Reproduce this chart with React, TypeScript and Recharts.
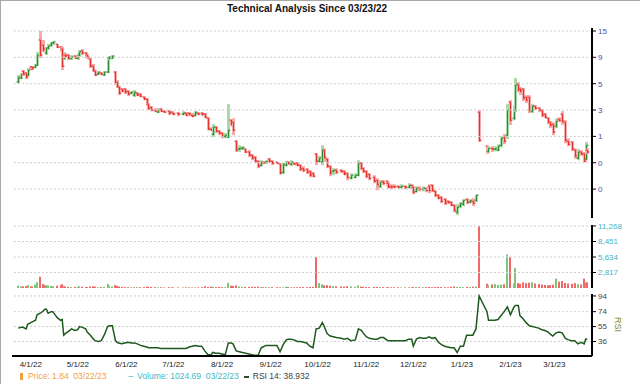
import { ComposedChart, Bar, Line, XAxis, YAxis, ReferenceLine } from 'recharts';

// calendar days since 03/23/22
const DAY = [
  1, 3, 4, 6, 7, 9, 10, 12, 13, 15,
  17, 18, 19, 20, 22, 23, 26, 28, 29, 30,
  31, 33, 35, 37, 39, 40, 42, 44, 45, 47,
  49, 50, 52, 54, 56, 58, 59, 61, 63, 64,
  65, 67, 69, 71, 73, 75, 77, 79, 81, 83,
  84, 86, 88, 90, 92, 94, 97, 99, 100, 103,
  106, 108, 110, 112, 114, 116, 118, 120, 122, 124,
  125, 127, 129, 131, 133, 135, 137, 138, 140, 142,
  144, 146, 148, 150, 152, 154, 156, 157, 159, 161,
  163, 166, 168, 170, 172, 173, 175, 177, 179, 181,
  183, 185, 187, 189, 191, 193, 195, 196, 198, 200,
  202, 204, 207, 209, 211, 213, 216, 218, 220, 221,
  223, 225, 228, 230, 232, 234, 236, 237, 239, 241,
  243, 245, 248, 250, 252, 253, 255, 257, 259, 261,
  263, 265, 267, 269, 271, 273, 275, 277, 279, 281,
  283, 285, 287, 289, 291, 293, 295, 300, 301, 303,
  305, 307, 309, 311, 313, 315, 317, 318, 320, 321,
  323, 325, 327, 329, 331, 333, 335, 337, 339, 340,
  342, 344, 346, 348, 350, 352, 354, 356, 358, 360,
  362, 363, 364,
];

const OPEN = [
  5.43, 5.91, 6.85, 6.57, 6.3, 7.45, 7.45, 7.45, 7.77, 13.16,
  11.84, 10.88, 10.01, 11.12, 11.84, 12.36, 12.1, 11.35, 10.88, 9.01,
  9.6, 9.6, 9.01, 9.4, 9.01, 9.6, 10.44, 10.01, 9.6, 8.82,
  7.61, 6.85, 6.43, 6.57, 6.3, 6.71, 9.01, 9.01, 6.71, 5.43,
  4.89, 4.69, 4.69, 4.49, 4.31, 4.13, 4.31, 4.22, 3.96, 3.8,
  3.42, 3.21, 3.01, 2.89, 3.08, 2.95, 2.95, 2.89, 2.83, 2.83,
  2.77, 2.83, 2.83, 2.71, 2.71, 2.83, 2.83, 2.77, 2.54, 2.02,
  1.82, 2.11, 1.94, 1.86, 1.74, 1.71, 2.44, 2.34, 1.57, 1.33,
  1.35, 1.33, 1.25, 1.17, 1.12, 1.03, 0.946, 1.01, 1.01, 1.08,
  1.03, 1.01, 0.97, 0.817, 0.946, 1.01, 0.97, 0.99, 0.99, 0.946,
  0.888, 0.87, 0.834, 0.8, 1.2, 1.03, 1.01, 1.3, 1.08, 0.926,
  0.834, 0.852, 0.852, 0.834, 0.8, 0.72, 0.735, 0.767, 0.99, 0.888,
  0.834, 0.783, 0.735, 0.69, 0.608, 0.676, 0.676, 0.648, 0.608, 0.608,
  0.608, 0.595, 0.608, 0.595, 0.621, 0.595, 0.547, 0.583, 0.571, 0.583,
  0.608, 0.621, 0.547, 0.504, 0.483, 0.463, 0.444, 0.435, 0.408, 0.352,
  0.4, 0.417, 0.463, 0.435, 0.444, 0.453, 2.89, 1.41, 1.27, 1.35,
  1.33, 1.3, 1.44, 1.71, 1.78, 3.57, 2.54, 3.01, 5.21, 4.69,
  4.69, 3.96, 3.96, 2.95, 3.28, 3.14, 3.01, 2.77, 2.54, 2.34,
  2.24, 2.15, 2.49, 2.77, 2.34, 1.57, 1.54, 1.3, 1.1, 1.25,
  1.2, 1.08, 1.3,
];

const HIGH = [
  6.3, 6.57, 7.0, 6.71, 7.3, 7.61, 7.61, 7.94, 10.22, 15.9,
  13.16, 11.12, 11.35, 12.1, 12.62, 12.88, 12.1, 11.6, 11.35, 10.22,
  10.01, 9.8, 9.6, 9.6, 9.8, 10.66, 10.88, 10.22, 9.8, 9.01,
  7.94, 7.0, 6.85, 6.71, 6.85, 9.2, 9.4, 9.6, 6.85, 5.67,
  4.99, 4.79, 4.79, 4.59, 4.49, 4.59, 4.4, 4.31, 4.04, 3.88,
  3.49, 3.28, 3.14, 3.14, 3.14, 3.01, 3.01, 2.95, 2.89, 2.89,
  2.95, 2.89, 2.89, 2.83, 2.95, 2.89, 2.89, 2.83, 2.6, 2.11,
  2.24, 2.15, 1.98, 1.9, 1.86, 3.42, 2.49, 2.54, 1.6, 1.44,
  1.41, 1.35, 1.3, 1.2, 1.15, 1.05, 1.05, 1.03, 1.05, 1.1,
  1.05, 1.01, 0.99, 0.99, 1.03, 1.03, 1.05, 1.01, 1.01, 0.97,
  0.926, 0.888, 0.852, 0.817, 1.22, 1.15, 1.44, 1.35, 1.1, 0.946,
  0.888, 0.888, 0.87, 0.852, 0.817, 0.8, 0.8, 1.05, 1.01, 0.907,
  0.852, 0.8, 0.767, 0.72, 0.69, 0.69, 0.69, 0.662, 0.634, 0.634,
  0.621, 0.634, 0.621, 0.648, 0.634, 0.608, 0.608, 0.608, 0.608, 0.595,
  0.634, 0.634, 0.559, 0.514, 0.493, 0.473, 0.453, 0.444, 0.417, 0.417,
  0.435, 0.463, 0.473, 0.463, 0.473, 0.514, 3.01, 1.44, 1.41, 1.41,
  1.41, 1.47, 1.74, 1.82, 3.42, 3.72, 3.35, 5.91, 5.43, 4.89,
  4.79, 4.13, 4.13, 3.42, 3.35, 3.21, 3.08, 2.83, 2.6, 2.39,
  2.34, 2.54, 2.6, 2.95, 2.44, 1.67, 1.57, 1.35, 1.33, 1.3,
  1.25, 1.54, 1.35,
];

const LOW = [
  5.32, 5.79, 6.17, 5.79, 6.17, 7.0, 7.15, 7.3, 7.61, 9.01,
  10.22, 10.22, 9.6, 10.66, 11.35, 11.84, 11.12, 10.22, 7.0, 8.63,
  9.01, 8.63, 8.63, 8.82, 8.63, 9.2, 9.6, 9.01, 8.82, 7.3,
  6.71, 6.17, 6.3, 6.3, 6.17, 6.57, 8.63, 8.82, 5.1, 4.79,
  4.13, 4.4, 4.22, 4.04, 4.22, 3.96, 4.04, 3.96, 3.72, 3.28,
  3.01, 2.95, 2.89, 2.83, 2.89, 2.83, 2.71, 2.77, 2.71, 2.65,
  2.71, 2.65, 2.65, 2.6, 2.65, 2.71, 2.65, 2.54, 1.98, 1.94,
  1.71, 1.86, 1.78, 1.67, 1.67, 1.67, 2.15, 1.78, 1.25, 1.25,
  1.3, 1.22, 1.12, 1.05, 0.99, 0.888, 0.926, 0.97, 0.97, 0.99,
  0.946, 0.97, 0.783, 0.783, 0.926, 0.946, 0.926, 0.946, 0.926, 0.834,
  0.817, 0.783, 0.735, 0.735, 0.946, 1.01, 0.946, 1.01, 0.888, 0.751,
  0.767, 0.783, 0.8, 0.767, 0.69, 0.705, 0.72, 0.751, 0.852, 0.8,
  0.72, 0.69, 0.648, 0.559, 0.583, 0.621, 0.608, 0.583, 0.571, 0.583,
  0.583, 0.583, 0.571, 0.583, 0.571, 0.514, 0.536, 0.547, 0.547, 0.536,
  0.525, 0.536, 0.483, 0.463, 0.426, 0.408, 0.417, 0.4, 0.352, 0.331,
  0.383, 0.4, 0.417, 0.426, 0.4, 0.435, 1.54, 1.2, 1.22, 1.25,
  1.27, 1.27, 1.38, 1.47, 1.64, 2.2, 2.44, 2.89, 4.4, 4.13,
  3.64, 3.49, 2.83, 2.83, 3.01, 2.89, 2.6, 2.54, 2.24, 2.06,
  1.78, 2.06, 2.34, 2.2, 1.5, 1.41, 1.27, 1.08, 1.05, 1.15,
  1.01, 1.05, 1.2,
];

const CLOSE = [
  6.04, 6.43, 6.43, 6.04, 7.0, 7.15, 7.3, 7.77, 9.6, 9.6,
  10.66, 10.66, 11.12, 11.6, 12.36, 12.62, 11.35, 10.66, 7.61, 9.8,
  9.4, 9.01, 9.2, 9.01, 9.4, 10.22, 10.01, 9.4, 9.2, 7.61,
  7.0, 6.3, 6.71, 6.43, 6.71, 9.01, 9.2, 9.4, 5.43, 4.99,
  4.31, 4.49, 4.4, 4.22, 4.4, 4.4, 4.13, 4.04, 3.8, 3.42,
  3.14, 3.01, 2.95, 3.01, 2.95, 2.89, 2.83, 2.83, 2.77, 2.77,
  2.83, 2.71, 2.77, 2.65, 2.89, 2.77, 2.77, 2.6, 2.02, 1.98,
  2.11, 1.94, 1.86, 1.74, 1.78, 1.98, 2.24, 1.98, 1.3, 1.35,
  1.38, 1.25, 1.17, 1.1, 1.03, 0.926, 1.01, 0.99, 1.03, 1.03,
  0.99, 0.99, 0.8, 0.97, 1.01, 0.99, 1.01, 0.97, 0.946, 0.87,
  0.852, 0.817, 0.767, 0.751, 1.03, 1.1, 1.3, 1.12, 0.926, 0.8,
  0.852, 0.817, 0.834, 0.783, 0.735, 0.767, 0.767, 0.99, 0.888, 0.834,
  0.751, 0.72, 0.676, 0.634, 0.662, 0.648, 0.634, 0.595, 0.595, 0.6,
  0.595, 0.608, 0.595, 0.621, 0.595, 0.536, 0.583, 0.571, 0.583, 0.559,
  0.559, 0.559, 0.504, 0.473, 0.444, 0.426, 0.435, 0.408, 0.367, 0.391,
  0.426, 0.453, 0.435, 0.453, 0.426, 0.504, 1.6, 1.25, 1.35, 1.33,
  1.35, 1.41, 1.67, 1.57, 3.01, 2.44, 3.14, 5.1, 4.59, 4.49,
  3.88, 3.72, 3.01, 3.28, 3.14, 3.01, 2.71, 2.6, 2.34, 2.2,
  1.9, 2.39, 2.44, 2.39, 1.6, 1.47, 1.33, 1.15, 1.25, 1.2,
  1.03, 1.44, 1.25,
];

const VOLUME = [
  420, 310, 280, 350, 520, 300, 260, 640, 1050, 2050,
  720, 480, 560, 450, 390, 330, 410, 520, 690, 380,
  260, 210, 180, 200, 230, 310, 250, 190, 170, 280,
  330, 240, 150, 160, 230, 740, 420, 300, 520, 380,
  260, 200, 160, 150, 140, 170, 130, 150, 160, 210,
  250, 180, 150, 120, 130, 110, 140, 120, 100, 110,
  130, 120, 110, 100, 120, 110, 150, 310, 180, 260,
  220, 170, 190, 160, 150, 950, 420, 380, 450, 280,
  220, 190, 210, 230, 200, 260, 180, 150, 170, 140,
  160, 150, 130, 120, 260, 180, 150, 140, 130, 150,
  170, 160, 190, 210, 5600, 900, 650, 480, 520, 430,
  360, 300, 280, 250, 330, 290, 240, 470, 260, 210,
  180, 170, 200, 220, 190, 160, 150, 140, 130, 120,
  130, 110, 120, 140, 130, 150, 180, 160, 150, 170,
  190, 160, 180, 200, 170, 150, 140, 230, 260, 200,
  180, 160, 210, 190, 240, 280, 11268, 780, 520, 640,
  700, 560, 620, 680, 6100, 5600, 820, 3650, 900, 760,
  1020, 880, 960, 1050, 820, 700, 620, 540, 480, 520,
  600, 1700, 1150, 1250, 900, 820, 760, 880, 700, 640,
  1700, 1000, 1024.69,
];

const RSI = [
  53, 54, 54, 52, 58, 60, 61, 63, 70, 72,
  75, 77, 77, 72, 74, 74, 66, 63, 64, 44,
  46, 49, 52, 50, 51, 55, 54, 52, 48, 44,
  39, 37, 36, 37, 45, 55, 56, 56, 37, 35,
  34, 33, 34, 35, 34, 34, 33, 31, 30, 29,
  28, 28, 28, 28, 27, 27, 27, 27, 27, 27,
  27, 27, 29, 30, 31, 30, 30, 24, 19, 19,
  22, 21, 21, 20, 19, 34, 34, 33, 24, 23,
  22, 21, 20, 19, 18.5, 18.5, 28, 29, 31, 31,
  31, 31, 23, 32, 38, 39, 39, 38, 36, 36,
  35, 34, 30, 28, 52, 53, 60, 56, 46, 43,
  42, 41, 40, 39, 40, 37, 38, 52, 50, 47,
  42, 40, 39, 39, 41, 41, 38, 37, 37, 37,
  37, 37, 37, 39, 39, 30, 39, 41, 40, 40,
  42, 40, 41, 35, 32, 30, 29, 28, 28, 22,
  30, 30, 44, 44, 44, 52, 94, 74, 63, 63,
  63, 64, 69, 74, 80, 70, 79, 82, 82, 69,
  65, 60, 56, 55, 54, 53, 51, 50, 48, 46,
  43, 47, 48, 47, 40, 38, 37, 37, 33, 35,
  33, 39, 38.932,
];

const MONTH_TICKS = [9, 39, 70, 100, 131, 162, 192, 223, 253, 284, 315, 343];
const MONTH_LABELS = ['4/1/22', '5/1/22', '6/1/22', '7/1/22', '8/1/22', '9/1/22', '10/1/22', '11/1/22', '12/1/22', '1/1/23', '2/1/23', '3/1/23'];
const PRICE_TICKS = [15.9, 9.14, 5.25, 3.02, 1.735, 0.997, 0.573];
const VOLUME_TICKS = [2817, 5634, 8451, 11268];
const RSI_TICKS = [36, 55, 74, 94];

const data = DAY.map((d, i) => ({
  day: d,
  open: OPEN[i],
  high: HIGH[i],
  low: LOW[i],
  close: CLOSE[i],
  range: [LOW[i], HIGH[i]],
  volume: VOLUME[i],
  rsi: RSI[i],
}));

const X_DOMAIN = [-3, 367];
const MARGIN_X = { left: 12, right: 0 };
const FONT = 'Arial, "Liberation Sans", sans-serif';

const Candle = (props: any) => {
  const { x, y, width, height, payload } = props;
  if (!payload) return null;
  const up = payload.close >= payload.open;
  const cx = Math.round(x + width / 2) + 0.5;
  const top = Math.min(y, y + height);
  const h = Math.max(Math.abs(height), 1);
  const lh = Math.log(payload.high);
  const ll = Math.log(payload.low);
  const at = (v: number) => (lh === ll ? top : top + (h * (lh - Math.log(v))) / (lh - ll));
  const yo = at(payload.open);
  const yc = at(payload.close);
  const dark = up ? '#2e8b2e' : '#e8302a';
  const light = up ? '#a9d9a9' : '#f7aaaa';
  return (
    <g>
      <rect x={cx - 1.5} y={top} width={3} height={h} fill={light} />
      <line x1={cx} x2={cx} y1={Math.min(yo, yc)} y2={Math.max(yo, yc) + 1} stroke={dark} />
      <line x1={cx - 2} x2={cx} y1={yo} y2={yo} stroke={dark} />
      <line x1={cx} x2={cx + 2} y1={yc} y2={yc} stroke={dark} />
    </g>
  );
};

const VolBar = (props: any) => {
  const { x, y, width, height, payload } = props;
  if (!payload || !height) return null;
  const up = payload.close >= payload.open;
  const cx = Math.round(x + width / 2);
  return <rect x={cx - 1} y={y} width={2} height={height} fill={up ? '#7cc77c' : '#f06868'} />;
};

const axisLine = { stroke: '#000', strokeWidth: 2 };

export default function App() {
  return (
    <div style={{ position: 'absolute', left: 0, top: 0, width: 640, height: 384, background: '#fff', fontFamily: FONT, overflow: 'hidden' }}>
      <div style={{ position: 'absolute', left: 0, top: 0, width: 639, height: 383, borderLeft: '1px solid #a8a8a8', borderTop: '1px solid #a8a8a8' }} />
      <div style={{ position: 'absolute', left: 0, top: 3, width: 614, textAlign: 'center', fontSize: 10, lineHeight: '12px', fontWeight: 'bold', color: '#111' }}>
        Technical Analysis Since 03/23/22
      </div>

      <div style={{ position: 'absolute', left: 0, top: 0 }}>
        <ComposedChart width={640} height={220} data={data} margin={{ top: 28, bottom: 2, ...MARGIN_X }}>
          <XAxis dataKey="day" type="number" domain={X_DOMAIN} hide allowDataOverflow />
          <YAxis
            orientation="right"
            width={48}
            scale="log"
            type="number"
            domain={[0.312, 16.93]}
            allowDataOverflow
            ticks={PRICE_TICKS}
            tickFormatter={(v: number) => String(Math.floor(v))}
            axisLine={axisLine}
            tickLine={{ stroke: '#000' }}
            tickSize={4}
            tick={{ fontSize: 8, fill: '#4b4bb0' }}
          />
          {PRICE_TICKS.map((v) => (
            <ReferenceLine key={v} y={v} stroke="#cfcfcf" strokeDasharray="2 2" />
          ))}
          <Bar dataKey="range" barSize={3} shape={Candle} isAnimationActive={false} />
        </ComposedChart>
      </div>

      <div style={{ position: 'absolute', left: 0, top: 220 }}>
        <ComposedChart width={640} height={70} data={data} margin={{ top: 5, bottom: 2, ...MARGIN_X }}>
          <XAxis dataKey="day" type="number" domain={X_DOMAIN} hide allowDataOverflow />
          <YAxis
            orientation="right"
            width={48}
            type="number"
            domain={[0, 11450]}
            allowDataOverflow
            ticks={VOLUME_TICKS}
            tickFormatter={(v: number) => v.toLocaleString('en-US')}
            axisLine={axisLine}
            tickLine={{ stroke: '#000' }}
            tickSize={4}
            tick={{ fontSize: 8, fill: '#3fb4c4' }}
          />
          {VOLUME_TICKS.map((v) => (
            <ReferenceLine key={v} y={v} stroke="#cfcfcf" strokeDasharray="2 2" />
          ))}
          <Bar dataKey="volume" barSize={2} shape={VolBar} isAnimationActive={false} />
        </ComposedChart>
      </div>

      <div style={{ position: 'absolute', left: 0, top: 290 }}>
        <ComposedChart width={640} height={94} data={data} margin={{ top: 4, bottom: 16, ...MARGIN_X }}>
          <XAxis
            dataKey="day"
            type="number"
            domain={X_DOMAIN}
            allowDataOverflow
            ticks={MONTH_TICKS}
            tickFormatter={(v: number) => MONTH_LABELS[MONTH_TICKS.indexOf(v)] ?? ''}
            height={12}
            tickSize={3}
            axisLine={axisLine}
            tickLine={false}
            tick={{ fontSize: 8, fill: '#222' }}
          />
          <YAxis
            orientation="right"
            width={48}
            type="number"
            domain={[17.5, 96.5]}
            allowDataOverflow
            ticks={RSI_TICKS}
            axisLine={axisLine}
            tickLine={{ stroke: '#000' }}
            tickSize={4}
            tick={{ fontSize: 8, fill: '#444' }}
          />
          {RSI_TICKS.map((v) => (
            <ReferenceLine key={v} y={v} stroke="#cfcfcf" strokeDasharray="2 2" />
          ))}
          <Line dataKey="rsi" type="linear" stroke="#1e5a1e" strokeWidth={1.5} dot={false} isAnimationActive={false} />
        </ComposedChart>
      </div>

      <div style={{ position: 'absolute', left: 623, top: 317, transform: 'rotate(90deg)', transformOrigin: 'left top', fontSize: 9, lineHeight: '10px', color: '#7a8a2a' }}>
        RSI
      </div>

      <div style={{ position: 'absolute', left: 20, top: 372, fontSize: 8.5, lineHeight: '9px', whiteSpace: 'pre', display: 'flex', alignItems: 'center' }}>
        <span style={{ display: 'inline-block', width: 3, height: 7, background: '#f5a040', marginRight: 5 }} />
        <span style={{ color: '#f0a050' }}>Price: 1.84  03/22/23</span>
        <span style={{ color: '#40b8c8', marginLeft: 22, marginRight: 4 }}>–</span>
        <span style={{ color: '#40b8c8' }}>Volume: 1024.69  03/22/23</span>
        <span style={{ display: 'inline-block', width: 5, height: 2, background: '#2d4d2d', marginLeft: 5, marginRight: 4 }} />
        <span style={{ color: '#444' }}>RSI 14: 38.932</span>
      </div>
    </div>
  );
}
